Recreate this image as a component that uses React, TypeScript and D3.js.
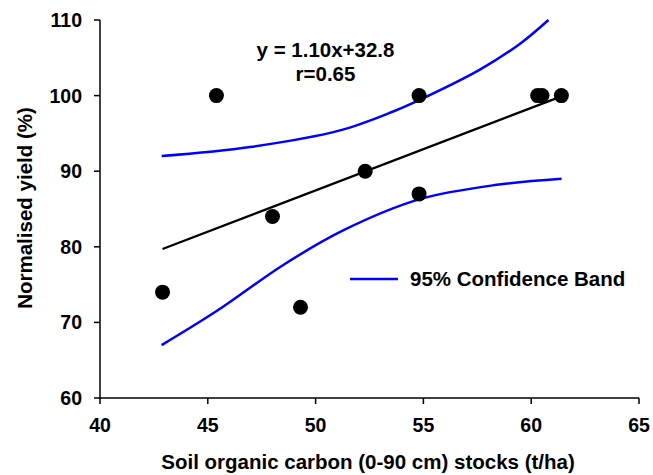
import React from 'react'
import * as d3 from 'd3'

// observed points
const carbon = [42.9, 45.4, 48.0, 49.3, 52.3, 54.8, 54.8, 60.3, 60.5, 61.4]
const yieldPct = [74, 100, 84, 72, 90, 100, 87, 100, 100, 100]

// fitted line y = 1.10x + 32.8 (end points)
const fitX = [42.9, 61.4]
const fitY = [79.7, 99.9]

// 95% confidence band
const upperX = [42.86, 46.96, 51.13, 53.6, 54.8, 57.6, 59.5, 60.8]
const upperY = [92.0, 93.2, 95.4, 97.9, 99.4, 103.4, 106.9, 110.0]
const lowerX = [42.86, 45.41, 48.5, 51.3, 54.84, 58.4, 61.41]
const lowerY = [67.0, 71.5, 77.6, 82.2, 86.3, 88.2, 89.0]

const xTicks = [40, 45, 50, 55, 60, 65]
const yTicks = [60, 70, 80, 90, 100, 110]

const App = () => {
  const width = 653
  const height = 475
  const left = 100
  const right = 639
  const top = 20
  const bottom = 398
  const font = 'Liberation Sans, Arial, sans-serif'

  // scales
  const x = d3.scaleLinear().domain([40, 65]).range([left, right])
  const y = d3.scaleLinear().domain([60, 110]).range([bottom, top])

  const curve = d3
    .line<[number, number]>()
    .x((d) => x(d[0]))
    .y((d) => y(d[1]))
    .curve(d3.curveCatmullRom.alpha(0.5))

  const straight = d3
    .line<[number, number]>()
    .x((d) => x(d[0]))
    .y((d) => y(d[1]))

  const upper = upperX.map((v, i) => [v, upperY[i]] as [number, number])
  const lower = lowerX.map((v, i) => [v, lowerY[i]] as [number, number])
  const fit = fitX.map((v, i) => [v, fitY[i]] as [number, number])

  return (
    <svg
      width={width}
      height={height}
      style={{ position: 'absolute', left: 0, top: 0, background: 'white' }}
      fontFamily={font}
      fontWeight="bold"
    >
      {/* axes */}
      <line x1={left} x2={left} y1={top} y2={bottom} stroke="black" strokeWidth={1.5} />
      <line x1={left} x2={right} y1={bottom} y2={bottom} stroke="black" strokeWidth={1.5} />
      {yTicks.map((t) => (
        <g key={'y' + t}>
          <line x1={left - 6} x2={left} y1={y(t)} y2={y(t)} stroke="black" strokeWidth={1.5} />
          <text x={82} y={y(t) + 7} textAnchor="end" fontSize={19.5}>
            {t}
          </text>
        </g>
      ))}
      {xTicks.map((t) => (
        <g key={'x' + t}>
          <line x1={x(t)} x2={x(t)} y1={bottom} y2={bottom + 6} stroke="black" strokeWidth={1.5} />
          <text x={x(t)} y={432} textAnchor="middle" fontSize={19.5}>
            {t}
          </text>
        </g>
      ))}

      {/* axis titles */}
      <text x={368} y={469} textAnchor="middle" fontSize={20.5}>
        Soil organic carbon (0-90 cm) stocks (t/ha)
      </text>
      <text
        transform={`translate(32, 208) rotate(-90)`}
        textAnchor="middle"
        fontSize={20.5}
      >
        Normalised yield (%)
      </text>

      {/* confidence band */}
      <path d={curve(upper) || ''} fill="none" stroke="#0000ff" strokeWidth={2.5} />
      <path d={curve(lower) || ''} fill="none" stroke="#0000ff" strokeWidth={2.5} />

      {/* fitted line */}
      <path d={straight(fit) || ''} fill="none" stroke="black" strokeWidth={2.2} />

      {/* points */}
      {carbon.map((c, i) => (
        <circle key={i} cx={x(c)} cy={y(yieldPct[i])} r={7.5} fill="black" />
      ))}

      {/* equation */}
      <text x={325.5} y={57} textAnchor="middle" fontSize={20.5}>
        y = 1.10x+32.8
      </text>
      <text x={325.5} y={81} textAnchor="middle" fontSize={20.5}>
        r=0.65
      </text>

      {/* legend */}
      <line x1={350} x2={398} y1={279} y2={279} stroke="#0000ff" strokeWidth={2.5} />
      <text x={410} y={286} fontSize={20.5}>
        95% Confidence Band
      </text>
    </svg>
  )
}

export default App
